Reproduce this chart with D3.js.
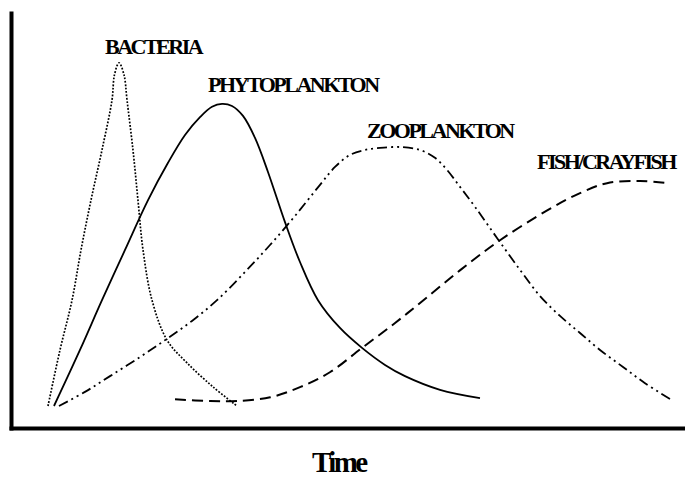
<!DOCTYPE html>
<html>
<head>
<meta charset="utf-8">
<script src="https://cdn.jsdelivr.net/npm/d3@7"></script>
<style>
  body { margin: 0; background: #fff; }
  text { font-family: "Liberation Serif", "Times New Roman", serif; font-weight: bold; fill: #000; }
</style>
</head>
<body>
<script>
// time (0-100) and relative abundance (0-100)
var bacteriaT = [5.48, 7.26, 9.04, 10.37, 11.85, 13.48, 14.96, 15.33, 16.0, 16.74, 17.19, 18.07, 18.81, 19.56, 20.89, 23.11, 26.07, 29.93, 33.48];
var bacteriaA = [5.3, 18.8, 30.8, 42.9, 54.9, 67.0, 79.0, 85.1, 88.0, 85.1, 79.0, 67.0, 54.9, 42.9, 30.8, 21.2, 15.7, 9.9, 5.3];

var phytoT = [6.37, 10.22, 13.48, 16.89, 20.3, 23.26, 25.78, 28.0, 29.78, 31.26, 32.74, 34.37, 36.15, 38.07, 40.59, 42.81, 45.48, 48.74, 52.0, 55.41, 58.37, 63.56, 69.48];
var phytoA = [5.3, 18.8, 30.8, 42.9, 54.9, 63.9, 70.6, 74.9, 77.4, 78.1, 77.6, 75.2, 69.9, 61.7, 49.6, 40.0, 30.8, 24.1, 19.3, 15.2, 12.5, 9.2, 7.2];

var zooT = [7.11, 10.96, 14.67, 19.11, 23.11, 26.81, 30.52, 34.67, 38.37, 42.07, 45.78, 48.0, 50.22, 52.44, 54.67, 57.63, 60.59, 62.81, 64.59, 66.52, 68.74, 72.0, 75.41, 78.37, 81.33, 84.3, 87.26, 90.67, 93.93, 97.63];
var zooA = [5.3, 8.7, 12.5, 17.1, 21.5, 25.8, 30.8, 37.6, 44.1, 51.1, 58.6, 62.9, 65.8, 67.0, 67.5, 67.7, 67.0, 65.1, 62.2, 58.1, 53.3, 45.8, 38.1, 31.8, 27.0, 22.9, 18.8, 14.7, 10.8, 7.0];

var fishT = [24.3, 29.5, 33.5, 38.4, 42.9, 47.3, 52.0, 56.9, 61.1, 66.6, 72.5, 79.5, 84.3, 88.3, 93.2, 97.2];
var fishA = [6.9, 6.5, 6.5, 7.4, 9.9, 13.5, 19.3, 25.3, 30.8, 38.1, 45.3, 52.5, 56.6, 59.0, 59.5, 59.0];

var labels = ["BACTERIA", "PHYTOPLANKTON", "ZOOPLANKTON", "FISH/CRAYFISH"];
var xTitle = "Time";

var svg = d3.select("body").append("svg")
  .attr("width", 685)
  .attr("height", 478);

var x = d3.scaleLinear().domain([0, 100]).range([11, 686]);
var y = d3.scaleLinear().domain([0, 100]).range([428, 13]);

// axes: just the thick frame lines, no ticks
svg.append("g").attr("transform", "translate(0," + y(0) + ")")
  .call(d3.axisBottom(x).ticks(0).tickSizeOuter(0));
svg.append("g").attr("transform", "translate(" + x(0) + ",0)")
  .call(d3.axisLeft(y).ticks(0).tickSizeOuter(0));
svg.selectAll(".domain")
  .attr("stroke", "#000")
  .attr("stroke-width", 4)
  .attr("stroke-linecap", "square");

var line = d3.line()
  .x(function(d){ return x(d[0]); })
  .y(function(d){ return y(d[1]); })
  .curve(d3.curveCatmullRom.alpha(0.5));

var series = [
  {t: bacteriaT, a: bacteriaA, dash: "1.8,1.6", w: 1.7},
  {t: phytoT, a: phytoA, dash: null, w: 1.8},
  {t: zooT, a: zooA, dash: "10,4,2,4,2,4", w: 1.8},
  {t: fishT, a: fishA, dash: "11,6", w: 2}
];

for(var i = 0; i < series.length; i++){
  var s = series[i];
  var pts = d3.zip(s.t, s.a);
  var p = svg.append("path")
    .datum(pts)
    .attr("d", line)
    .attr("fill", "none")
    .attr("stroke", "#000")
    .attr("stroke-width", s.w);
  if(s.dash) p.attr("stroke-dasharray", s.dash);
}

// curve labels
var labelPos = [[105, 54], [208, 92], [367, 138], [537, 169]];
for(var j = 0; j < labels.length; j++){
  svg.append("text")
    .attr("x", labelPos[j][0])
    .attr("y", labelPos[j][1])
    .attr("font-size", 22)
    .attr("letter-spacing", -2.5)
    .text(labels[j]);
}

svg.append("text")
  .attr("x", 312)
  .attr("y", 472)
  .attr("font-size", 29)
  .attr("letter-spacing", -2.6)
  .text(xTitle);
</script>
</body>
</html>
